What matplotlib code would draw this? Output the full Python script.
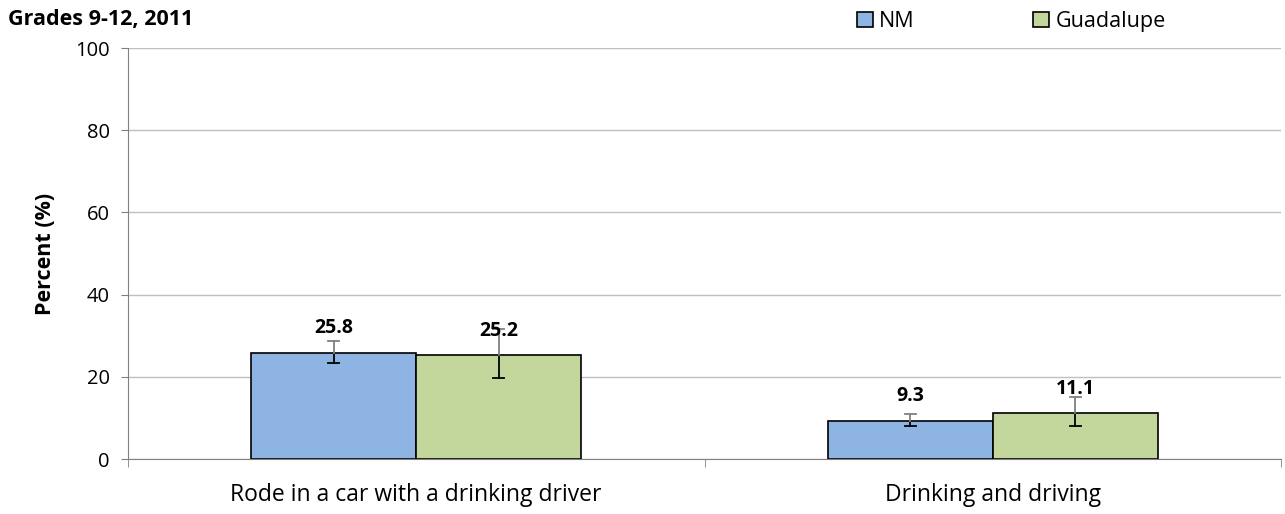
import matplotlib
matplotlib.use("Agg")
import matplotlib.pyplot as plt
import numpy as np

categories = ["Rode in a car with a drinking driver", "Drinking and driving"]
series = ["NM", "Guadalupe"]
nm_values = [25.8, 9.3]
gu_values = [25.2, 11.1]
nm_low = [23.4, 8.0]
nm_high = [28.7, 10.9]
gu_low = [19.7, 8.0]
gu_high = [31.6, 15.1]
yticks = [0, 20, 40, 60, 80, 100]

plt.rcParams['font.family'] = ['Open Sans', 'DejaVu Sans']

fig = plt.figure(figsize=(12.85, 5.14), dpi=100)
ax = fig.add_axes([0.0996, 0.107, 0.8973, 0.7996])

x = np.arange(len(categories))
w = 0.286
colors = ["#8eb4e3", "#c3d69b"]
vals = [nm_values, gu_values]
lows = [nm_low, gu_low]
highs = [nm_high, gu_high]
for i, (s, v, lo, hi, c) in enumerate(zip(series, vals, lows, highs, colors)):
    xpos = x + (i - 0.5) * w
    ax.bar(xpos, v, width=w, color=c, edgecolor="black", linewidth=1.2, label=s, zorder=2)
    for xp, val, l, h in zip(xpos, v, lo, hi):
        cap = 0.0095
        ax.plot([xp, xp], [l, val], color="black", lw=1.3, zorder=3)
        ax.plot([xp, xp], [val, h], color="#808080", lw=1.3, zorder=3)
        ax.plot([xp - cap, xp + cap], [l, l], color="black", lw=1.3, zorder=3)
        ax.plot([xp - cap, xp + cap], [h, h], color="#808080", lw=1.3, zorder=3)
        ax.text(xp, val + 6.0, f"{val}", ha="center", va="center", fontsize=14,
                fontweight="bold", zorder=4)

ax.set_xlim(-0.5, 1.5)
ax.set_ylim(0, 100)
ax.set_yticks(yticks)
ax.set_yticklabels([str(t) for t in yticks], fontsize=14.5)
ax.yaxis.grid(True, color="#c0c0c0", lw=1)
ax.set_axisbelow(True)
ax.set_xticks(x)
ax.set_xticklabels(categories, fontsize=16.5)
ax.tick_params(axis="x", length=0, pad=17)
ax.set_xticks([-0.5, 0.5, 1.5], minor=True)
ax.tick_params(axis="x", which="minor", length=6, color="#808080", direction="out")
ax.tick_params(axis="y", length=5, color="#808080", direction="out", pad=8)
for sp in ["top", "right"]:
    ax.spines[sp].set_visible(False)
ax.spines["left"].set_color("#808080")
ax.spines["bottom"].set_color("#808080")
ax.set_ylabel("Percent (%)", fontsize=15.5, fontweight="bold", labelpad=14)

fig.text(0.006, 0.962, "Grades 9-12, 2011", fontsize=15.5, fontweight="bold", ha="left", va="center")

fig.legend(loc="center", bbox_to_anchor=(0.787, 0.958), ncol=2, frameon=False,
           fontsize=15.5, handlelength=0.75, handleheight=0.75, handletextpad=0.3,
           columnspacing=5.5)

fig.savefig("out.png", dpi=100)
